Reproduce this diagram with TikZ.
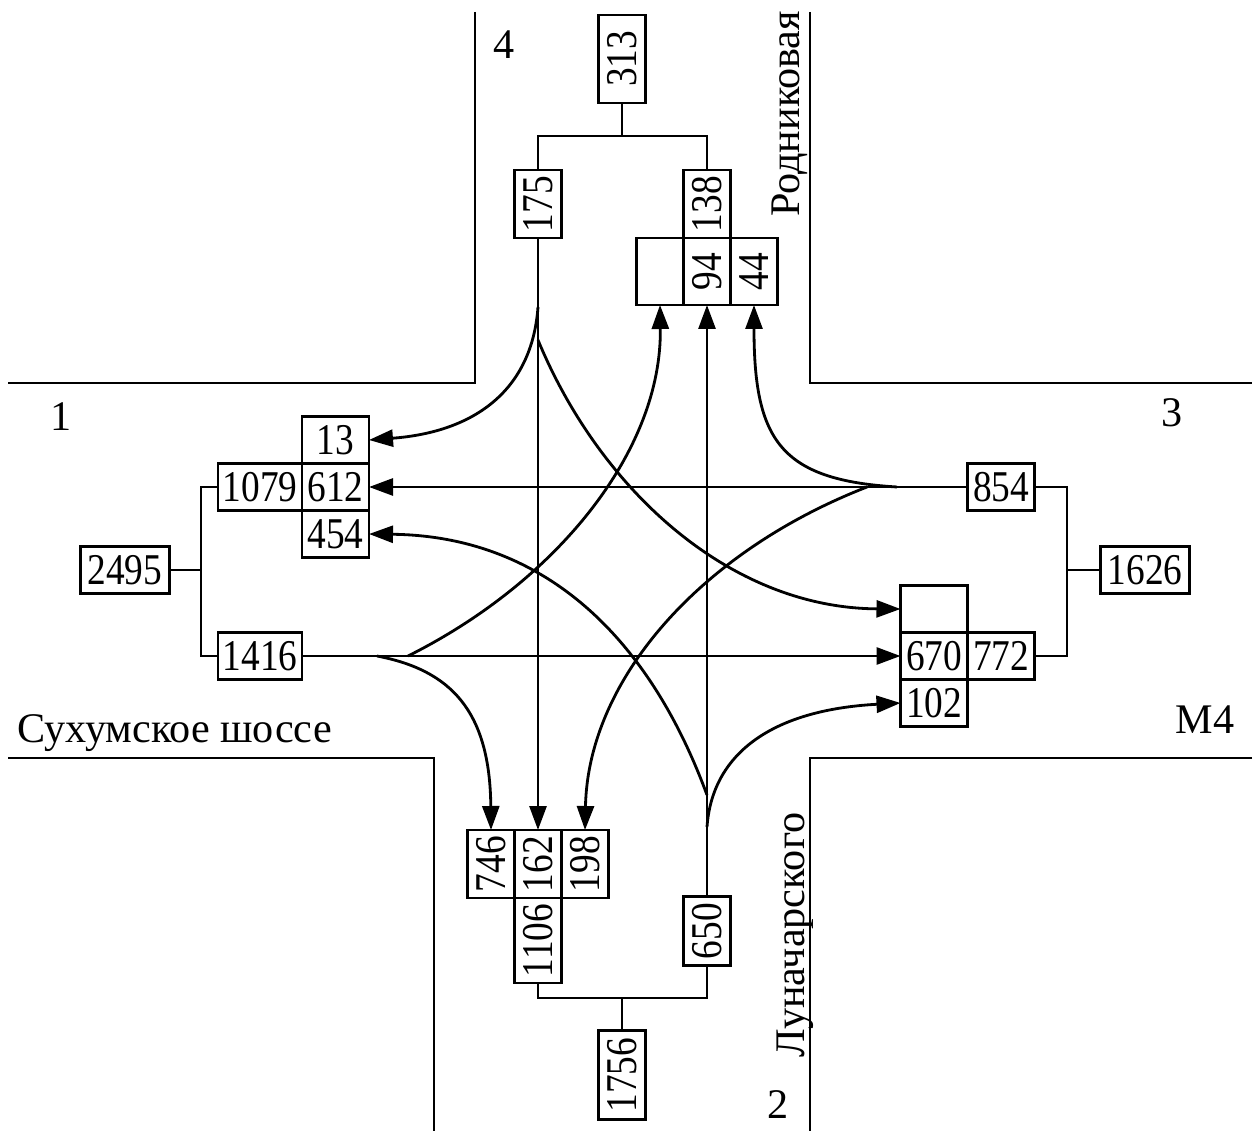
\documentclass[tikz,border=0pt]{standalone}
\usepackage{fontspec}
\setmainfont{Liberation Serif}
\usepackage{graphicx}
\usetikzlibrary{arrows.meta,positioning}
\newcommand{\hnum}[1]{\scalebox{0.85}[1]{#1}}
\newcommand{\vnum}[1]{\rotatebox{90}{\hnum{#1}}}
\tikzset{
  cell/.style={
    draw,
    thick,
    inner sep=0pt,
    outer sep=0pt,
    minimum width=6.7mm,
    minimum height=4.7mm,
    font=\fontsize{12.5}{14}\selectfont
  },
  wcell/.style={cell, minimum width=8.4mm},
  bigcell/.style={cell, minimum width=8.9mm},
  vcell/.style={cell, minimum width=4.7mm, minimum height=6.8mm},
  road/.style={thick},
  tie/.style={thick},
  flow/.style={thick, -{Triangle[length=2.4mm,width=1.7mm]}},
  lbl/.style={font=\fontsize{12}{14}\selectfont, inner sep=0pt}
}

\begin{document}
\begin{tikzpicture}[x=0.1mm, y=-0.1mm]
  \useasboundingbox (0,0) rectangle (1257,1131);
  % road edges
  \draw[road] (475,12) |- (8,383);
  \draw[road] (810,12) |- (1252,383);
  \draw[road] (8,758) -| (434,1131);
  \draw[road] (1252,758) -| (810,1131);
  % road names and approach numbers
  \node[lbl] (n4) at (504,45) {4};
  \node[lbl] (n1) at (61,417) {1};
  \node[lbl] (n3) at (1172,413) {3};
  \node[lbl] (n2) at (778,1105) {2};
  \node[lbl] (m4) at (1205,720) {М4};
  \node[lbl, anchor=base west] (sukhum) at (17,742) {Сухумское шоссе};
  \node[lbl, rotate=90, anchor=base] (rodnik) at (799,114) {Родниковая};
  \node[lbl, rotate=90, anchor=base] (lunach) at (804,935) {Луначарского};

  % approach 4 (north)
  \node[vcell, minimum height=8.8mm] (t313) at (622,59) {\vnum{313}};
  \node[vcell] (t175) at (538,204) {\vnum{175}};
  \node[vcell] (t138) at (707,204) {\vnum{138}};
  \node[vcell, minimum height=6.7mm, below=0pt of t138] (t94) {\vnum{94}};
  \node[vcell, minimum height=6.7mm, left=0pt of t94] (tE) {};
  \node[vcell, minimum height=6.7mm, right=0pt of t94] (t44) {\vnum{44}};
  \coordinate (j4) at (622,136);
  \draw[tie] (t313) -- (j4);
  \draw[tie] (t175.north) |- (j4) -| (t138.north);

  % approach 1 (west)
  \node[wcell] (l1079) at (260,487) {\hnum{1079}};
  \node[cell, right=0pt of l1079] (l612) {\hnum{612}};
  \node[cell, above=0pt of l612] (l13) {\hnum{13}};
  \node[cell, below=0pt of l612] (l454) {\hnum{454}};
  \node[bigcell] (l2495) at (125,570) {\hnum{2495}};
  \node[wcell] (l1416) at (260,656) {\hnum{1416}};
  \coordinate (j1) at (201,570);
  \draw[tie] (l2495) -- (j1);
  \draw[tie] (l1079.west) -| (j1) |- (l1416.west);

  % approach 3 (east)
  \node[cell] (r854) at (1001,487) {\hnum{854}};
  \node[bigcell] (r1626) at (1145,570) {\hnum{1626}};
  \node[cell] (r670) at (934,656) {\hnum{670}};
  \node[cell, right=0pt of r670] (r772) {\hnum{772}};
  \node[cell, above=0pt of r670] (rE) {};
  \node[cell, below=0pt of r670] (r102) {\hnum{102}};
  \coordinate (j3) at (1067,570);
  \draw[tie] (r1626) -- (j3);
  \draw[tie] (r854.east) -| (j3) |- (r772.east);

  % approach 2 (south)
  \node[vcell] (b162) at (538,864) {\vnum{162}};
  \node[vcell, left=0pt of b162] (b746) {\vnum{746}};
  \node[vcell, right=0pt of b162] (b198) {\vnum{198}};
  \node[vcell, minimum height=8.5mm, below=0pt of b162] (b1106) {\vnum{1106}};
  \node[vcell, minimum height=6.9mm] (b650) at (707,931) {\vnum{650}};
  \node[vcell, minimum height=8.9mm] (b1756) at (622,1075) {\vnum{1756}};
  \coordinate (j2) at (622,998);
  \draw[tie] (b1756) -- (j2);
  \draw[tie] (b1106.south) |- (j2) -| (b650.south);

  % where the turns leave the through lines
  \coordinate (s4r) at (538,307);
  \coordinate (s4l) at (538,340);
  \coordinate (s2r) at (707,827);
  \coordinate (s2l) at (707,795);
  \coordinate (s1r) at (377,656);
  \coordinate (s1l) at (408,656);
  \coordinate (s3r) at (897,487);
  \coordinate (s3l) at (867,487);

  % through movements
  \draw[flow] (t175.south) -- (b162.north);
  \draw[flow] (b650.north) -- (t94.south);
  \draw[flow] (r854.west) -- (l612.east);
  \draw[flow] (l1416.east) -- (r670.west);

  % right turns
  \draw[flow] (s4r) .. controls (532,390) and (475,432) .. (l13.east);
  \draw[flow] (s2r) .. controls (712,755) and (770,710) .. (r102.west);
  \draw[flow] (s1r) .. controls (450,670) and (490,710) .. (b746.north);
  \draw[flow] (s3r) .. controls (780,480) and (754,440) .. (t44.south);

  % left turns
  \draw[flow] (s4l) .. controls (600,490) and (730,608) .. (rE.west);
  \draw[flow] (s2l) .. controls (647,632) and (540,536) .. (l454.east);
  \draw[flow] (s1l) .. controls (558,581) and (662,450) .. (tE.south);
  \draw[flow] (s3l) .. controls (700,552) and (588,680) .. (b198.north);
\end{tikzpicture}
\end{document}
